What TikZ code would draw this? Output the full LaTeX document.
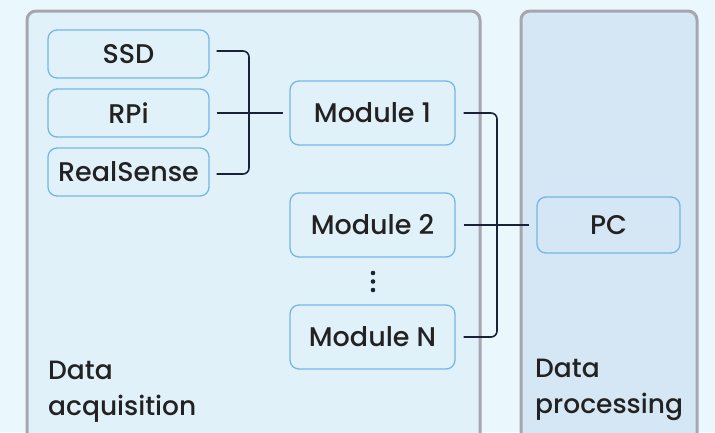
\documentclass[tikz,border=0pt]{standalone}
\usepackage{fontspec}
\setmainfont{Poppins}[UprightFont=* Medium]
\definecolor{bgc}{HTML}{EAF7FC}
\definecolor{acqfill}{HTML}{E1F1F9}
\definecolor{procfill}{HTML}{D5E7F5}
\definecolor{groupline}{HTML}{A6A6AE}
\definecolor{nodeline}{HTML}{74B7E4}
\definecolor{wire}{HTML}{1A2238}
\definecolor{txt}{HTML}{222222}
\begin{document}
\begin{tikzpicture}[x=1pt,y=-1pt,
  group/.style={draw=groupline,line width=3pt,rounded corners=9pt},
  unit/.style={draw=nodeline,line width=1.3pt,rounded corners=9pt,inner sep=0pt,text=txt,font=\fontsize{27}{32}\selectfont},
  wireline/.style={draw=wire,line width=1.6pt,rounded corners=6pt},
  grouplabel/.style={anchor=north west,align=left,text=txt,font=\fontsize{26.5}{36}\selectfont,inner sep=0pt}]
\useasboundingbox (0,0) rectangle (715,432);
\fill[bgc] (0,0) rectangle (715,432);
\path[group,fill=acqfill] (27,11) rectangle (480,450);
\path[group,fill=procfill] (521,11) rectangle (697,450);
\node[unit,fill=acqfill,minimum width=161pt,minimum height=48pt] (ssd) at (128.5,54) {SSD};
\node[unit,fill=acqfill,minimum width=161pt,minimum height=48pt] (rpi) at (128.5,113) {RPi};
\node[unit,fill=acqfill,minimum width=161pt,minimum height=48pt] (rs) at (128.5,172) {RealSense};
\node[unit,fill=acqfill,minimum width=165pt,minimum height=64pt] (m1) at (372.5,113) {Module 1};
\node[unit,fill=acqfill,minimum width=165pt,minimum height=64pt] (m2) at (372.5,225) {Module 2};
\node[unit,fill=acqfill,minimum width=165pt,minimum height=64pt] (mn) at (372.5,337) {Module N};
\node[unit,fill=procfill,minimum width=143pt,minimum height=56pt] (pc) at (608.5,225) {PC};
\foreach \yy in {273,281.5,290} \fill[wire] (373,\yy) circle (2.3pt);
\node[grouplabel] (acq) at (48,361) {Data\\acquisition};
\node[grouplabel] (proc) at (535,359) {Data\\processing};
\coordinate (j1) at (249,113);
\coordinate (j2) at (497,225);
\draw[wireline] ([xshift=7pt]ssd.east |- 0,51) -| (j1) |- ([xshift=7pt]rs.east |- 0,174);
\draw[wireline] ([xshift=7pt]rpi.east) -- ([xshift=-6pt]m1.west);
\draw[wireline] ([xshift=8pt]m1.east) -| (j2) |- ([xshift=8pt]mn.east);
\draw[wireline] ([xshift=8pt]m2.east) -- ([xshift=-7pt]pc.west);
\end{tikzpicture}
\end{document}
